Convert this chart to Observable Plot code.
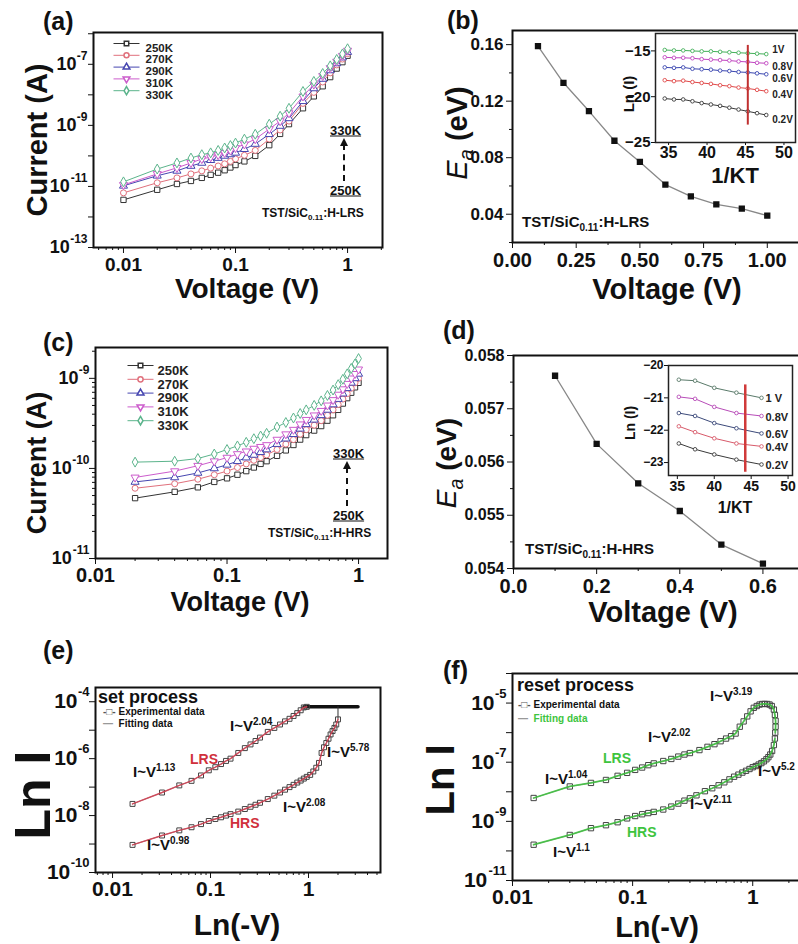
<!DOCTYPE html>
<html><head><meta charset="utf-8">
<script src="https://cdn.jsdelivr.net/npm/d3@7"></script>
<script src="https://cdn.jsdelivr.net/npm/@observablehq/plot@0.6"></script>
<style>
html,body{margin:0;padding:0;background:#fff;}
#fig{position:relative;width:798px;height:944px;overflow:hidden;background:#fff;}
sup,sub{line-height:0;}
</style></head><body><div id="fig"></div>
<script>
// ---------------- DATA ----------------
const temps = ["250K","270K","290K","310K","330K"];
const tempColors = ["#333333","#e0707c","#4646b0","#cc5ccc","#5cb48c"];
const tempSymbols = ["square","circle","triangle","triangle","diamond"];
const tempRotate = [0,0,0,180,0];

// (a) LRS, log10(I) vs V
const Va = [0.01,0.02,0.03,0.04,0.05,0.06,0.07,0.08,0.09,0.1,0.12,0.15,0.2,0.25,0.3,0.4,0.5,0.6,0.7,0.8,0.9,1.0];
const logIa_250K = [-11.44,-11.11,-10.92,-10.82,-10.72,-10.62,-10.55,-10.47,-10.38,-10.30,-10.18,-10.00,-9.65,-9.28,-8.96,-8.44,-8.05,-7.72,-7.42,-7.14,-6.93,-6.72];
const logIa_270K = [-11.21,-10.88,-10.72,-10.59,-10.49,-10.40,-10.33,-10.26,-10.18,-10.10,-9.98,-9.82,-9.45,-9.15,-8.86,-8.28,-7.92,-7.58,-7.28,-7.02,-6.83,-6.65];
const logIa_290K = [-10.98,-10.65,-10.49,-10.33,-10.23,-10.14,-10.07,-10.00,-9.95,-9.90,-9.78,-9.61,-9.29,-9.02,-8.77,-8.21,-7.79,-7.48,-7.20,-6.97,-6.78,-6.60];
const logIa_310K = [-10.95,-10.59,-10.39,-10.23,-10.10,-10.04,-9.97,-9.90,-9.82,-9.74,-9.62,-9.45,-9.12,-8.86,-8.60,-8.05,-7.66,-7.38,-7.12,-6.91,-6.72,-6.55];
const logIa_330K = [-10.85,-10.43,-10.23,-10.07,-9.96,-9.90,-9.82,-9.74,-9.66,-9.58,-9.45,-9.29,-8.96,-8.70,-8.44,-7.89,-7.56,-7.30,-7.05,-6.84,-6.66,-6.49];

// (b) activation energy LRS
const Vb = [0.1,0.2,0.3,0.4,0.5,0.6,0.7,0.8,0.9,1.0];
const Ea_b = [0.159,0.133,0.113,0.092,0.077,0.061,0.0526,0.047,0.044,0.039];
// (b) inset: Ln(I) vs 1/kT
const insetB_invKT = [34.5,35.7,36.9,38.1,39.3,40.5,41.7,42.9,44.1,45.3,46.5,47.7];
const insetB_1V  = [-14.9,-14.95,-14.95,-15.0,-15.05,-15.05,-15.1,-15.15,-15.2,-15.25,-15.3,-15.35];
const insetB_08V = [-15.7,-15.75,-15.75,-15.8,-15.9,-15.95,-16.0,-16.05,-16.15,-16.2,-16.3,-16.35];
const insetB_06V = [-16.8,-16.85,-16.8,-16.95,-17.0,-17.05,-17.15,-17.2,-17.3,-17.35,-17.45,-17.55];
const insetB_04V = [-18.2,-18.3,-18.25,-18.4,-18.5,-18.6,-18.75,-18.85,-19.0,-19.1,-19.25,-19.4];
const insetB_02V = [-20.2,-20.3,-20.3,-20.5,-20.7,-20.85,-21.0,-21.2,-21.4,-21.6,-21.8,-22.0];
const insetB_labels = ["1V","0.8V","0.6V","0.4V","0.2V"];
const insetB_colors = ["#44b05a","#c044c0","#3a46b0","#e04848","#3a3a3a"];
const insetB_cursor = {x: 45.3, y1: -23.1, y2: -14.4};

// (c) HRS, log10(I) vs V
const Vc = [0.02,0.04,0.06,0.08,0.1,0.12,0.14,0.16,0.18,0.2,0.24,0.28,0.32,0.36,0.4,0.46,0.52,0.58,0.64,0.7,0.76,0.82,0.88,0.94,1.0];
const logIc_250K = [-10.33,-10.26,-10.21,-10.15,-10.11,-10.07,-10.03,-9.99,-9.95,-9.92,-9.86,-9.80,-9.74,-9.68,-9.63,-9.58,-9.53,-9.47,-9.41,-9.35,-9.28,-9.22,-9.16,-9.10,-9.05];
const logIc_270K = [-10.22,-10.17,-10.12,-10.07,-10.03,-9.99,-9.95,-9.91,-9.88,-9.85,-9.79,-9.73,-9.68,-9.62,-9.57,-9.52,-9.47,-9.41,-9.35,-9.29,-9.23,-9.17,-9.11,-9.05,-9.00];
const logIc_290K = [-10.15,-10.10,-10.05,-10.00,-9.96,-9.92,-9.88,-9.85,-9.82,-9.79,-9.73,-9.67,-9.62,-9.56,-9.51,-9.46,-9.41,-9.35,-9.29,-9.23,-9.17,-9.11,-9.05,-9.00,-8.95];
const logIc_310K = [-10.10,-10.03,-9.97,-9.92,-9.88,-9.84,-9.81,-9.78,-9.76,-9.74,-9.68,-9.62,-9.57,-9.51,-9.46,-9.41,-9.36,-9.30,-9.24,-9.18,-9.12,-9.06,-9.00,-8.95,-8.90];
const logIc_330K = [-9.93,-9.92,-9.89,-9.84,-9.79,-9.75,-9.71,-9.67,-9.64,-9.61,-9.54,-9.49,-9.44,-9.39,-9.35,-9.30,-9.25,-9.19,-9.13,-9.07,-9.01,-8.95,-8.89,-8.84,-8.78];

// (d) activation energy HRS
const Vd = [0.1,0.2,0.3,0.4,0.5,0.6];
const Ea_d = [0.05762,0.05634,0.05560,0.05508,0.05445,0.05409];
const insetD_invKT = [35.2,37.4,40.0,43.0,46.4];
const insetD_1V  = [-20.44,-20.47,-20.69,-20.84,-21.0];
const insetD_08V = [-20.97,-21.03,-21.28,-21.47,-21.56];
const insetD_06V = [-21.47,-21.56,-21.78,-21.94,-22.1];
const insetD_04V = [-21.88,-22.06,-22.25,-22.41,-22.5];
const insetD_02V = [-22.41,-22.59,-22.75,-22.91,-23.06];
const insetD_labels = ["1 V","0.8V","0.6V","0.4V","0.2V"];
const insetD_colors = ["#5a7a6a","#b84cb8","#3c4a7a","#d85a6a","#3a3a3a"];
const insetD_cursor = {x: 44.2, y1: -23.3, y2: -20.6};

// (e) set process
const Ve_LRS = [0.016,0.032,0.048,0.064,0.08,0.096,0.112,0.128,0.144,0.16,0.192,0.224,0.256,0.288,0.32,0.384,0.448,0.512,0.576,0.64,0.704,0.768,0.832,0.896,0.96];
const logIe_LRS = [-7.59,-7.19,-6.94,-6.78,-6.59,-6.41,-6.30,-6.19,-6.08,-6.00,-5.80,-5.63,-5.50,-5.38,-5.26,-5.06,-4.92,-4.80,-4.69,-4.60,-4.50,-4.40,-4.30,-4.20,-4.18];
const Ve_HRS = [0.016,0.032,0.048,0.064,0.08,0.096,0.112,0.128,0.144,0.16,0.192,0.224,0.256,0.288,0.32,0.384,0.448,0.512,0.576,0.64,0.704,0.768,0.832,0.896,0.96,1.04,1.12,1.2,1.28,1.36,1.44,1.52,1.6,1.68,1.76,1.84,1.92,2.0];
const logIe_HRS = [-9.03,-8.70,-8.52,-8.41,-8.30,-8.19,-8.12,-8.06,-8.00,-7.95,-7.86,-7.77,-7.69,-7.62,-7.55,-7.42,-7.30,-7.19,-7.09,-7.00,-6.92,-6.84,-6.77,-6.70,-6.64,-6.57,-6.45,-6.32,-6.15,-5.80,-5.60,-5.45,-5.30,-5.15,-5.03,-4.92,-4.80,-4.62];
const Ve_compliance = [0.9, 3.2];
const logIe_compliance = -4.18;

// (f) reset process
const Vf_LRS = [0.015,0.03,0.045,0.06,0.075,0.09,0.105,0.12,0.135,0.15,0.18,0.21,0.24,0.27,0.3,0.36,0.42,0.48,0.54,0.6,0.66,0.72,0.78,0.84,0.9,0.96,1.02,1.08,1.14,1.2,1.26,1.32,1.38,1.44,1.5,1.53,1.55,1.55,1.54];
const logIf_LRS = [-8.21,-7.82,-7.70,-7.60,-7.46,-7.36,-7.26,-7.18,-7.10,-7.04,-6.96,-6.89,-6.81,-6.74,-6.69,-6.59,-6.48,-6.39,-6.29,-6.20,-6.12,-6.03,-5.80,-5.62,-5.45,-5.28,-5.16,-5.10,-5.05,-5.03,-5.03,-5.03,-5.05,-5.10,-5.22,-5.40,-5.60,-5.80,-6.00];
const Vf_HRS = [1.53,1.5,1.45,1.4,1.35,1.3,1.24,1.18,1.12,1.06,1.0,0.94,0.88,0.82,0.76,0.7,0.64,0.58,0.52,0.46,0.4,0.34,0.3,0.27,0.24,0.21,0.18,0.15,0.135,0.12,0.105,0.09,0.075,0.06,0.045,0.03,0.015];
const logIf_HRS = [-6.2,-6.42,-6.62,-6.74,-6.83,-6.9,-6.97,-7.03,-7.08,-7.13,-7.17,-7.23,-7.29,-7.35,-7.42,-7.49,-7.58,-7.68,-7.78,-7.88,-7.98,-8.12,-8.22,-8.30,-8.40,-8.50,-8.60,-8.68,-8.72,-8.76,-8.82,-8.90,-9.03,-9.13,-9.23,-9.46,-9.79];

// tick values
const ticksA_x = [0.01,0.1,1];
const ticksA_yLabel = [1e-13,1e-11,1e-9,1e-7];
const ticksC_yLabel = [1e-11,1e-10,1e-9];
const ticksE_yLabel = [1e-10,1e-8,1e-6,1e-4];
const ticksF_yLabel = [1e-11,1e-9,1e-7,1e-5];
const ticksB_x = [0,0.25,0.5,0.75,1.0];
const ticksB_y = [0.04,0.08,0.12,0.16];
const ticksD_x = [0,0.2,0.4,0.6];
const ticksD_y = [0.054,0.055,0.056,0.057,0.058];

// ---------------- HELPERS ----------------
const FONT = '"Liberation Sans", Arial, Helvetica, sans-serif';
const fig = document.getElementById("fig");
function mount(svg, left, top){ svg.style.position="absolute"; svg.style.left=left+"px"; svg.style.top=top+"px"; fig.appendChild(svg); }
function panel({box:[x0,y0,x1,y1], m:[mt,mr,mb,ml], x, y, marks, fs}){
  const svg = Plot.plot({
    width: x1-x0+ml+mr, height: y1-y0+mt+mb,
    marginTop: mt, marginRight: mr, marginBottom: mb, marginLeft: ml,
    x, y, marks,
    style: {background:"transparent", overflow:"visible", fontFamily: FONT, fontWeight:"bold", fontSize: fs+"px", maxWidth:"none", color:"#111"}
  });
  mount(svg, x0-ml, y0-mt);
}
function label(html, x, y, css="", anchor="start", rotate=false){
  const d = document.createElement("div");
  d.innerHTML = html;
  const tx = anchor==="middle" ? "-50%" : anchor==="end" ? "-100%" : "0";
  d.style.cssText = `position:absolute;left:${x}px;top:${y}px;white-space:nowrap;line-height:1;font-family:${FONT};font-weight:bold;color:#111;transform:translate(${tx},-50%)${rotate?" rotate(-90deg)":""};transform-origin:center;${css}`;
  fig.appendChild(d);
}
function arrowUp(x, yTop, yBot){
  const d = document.createElement("div");
  d.style.cssText = `position:absolute;left:${x-1}px;top:${yTop+6}px;height:${yBot-yTop-6}px;border-left:2px dashed #111;`;
  fig.appendChild(d);
  const h = document.createElement("div");
  h.style.cssText = `position:absolute;left:${x-4}px;top:${yTop}px;width:0;height:0;border-left:4px solid transparent;border-right:4px solid transparent;border-bottom:8px solid #111;`;
  fig.appendChild(h);
}
function logMinor(lo, hi){ const out=[]; for(let k=Math.floor(Math.log10(lo)); k<=Math.ceil(Math.log10(hi)); k++) for(let m=2;m<=9;m++){const v=m*10**k; if(v>=lo&&v<=hi) out.push(v);} return out; }
function logMajor(lo, hi){ const out=[]; for(let k=Math.ceil(Math.log10(lo)-1e-9); 10**k<=hi*1.0001; k++) out.push(10**k); return out; }
function logYLabels(ticks, fs, es){
  const marks=[];
  for(const t of ticks){
    const e = String(Math.round(Math.log10(t)));
    const ew = (e.length-1)*es*0.56 + es*0.36;
    marks.push(Plot.text([t], {y: d=>d, frameAnchor:"left", text: ()=>e, textAnchor:"end", dx:-6, dy:-fs*0.45, fontSize: es}));
    marks.push(Plot.text([t], {y: d=>d, frameAnchor:"left", text: ()=>"10", textAnchor:"end", dx:-6-ew, fontSize: fs}));
  }
  return marks;
}
const segSymbol = {draw(ctx){ ctx.moveTo(-13,0); ctx.lineTo(13,0); }};
const rowsOf = (xs, ys, f=(v)=>10**v) => xs.map((v,i)=>({x:v, y:f(ys[i])}));

// ---------------- PANEL (a) ----------------
{
  const series = [logIa_250K, logIa_270K, logIa_290K, logIa_310K, logIa_330K];
  const xd = [0.0054, 2.05], yd = [1e-13, 1.1e-6];
  const marks = [];
  series.forEach((s,i)=>{
    const rows = rowsOf(Va, s);
    marks.push(Plot.line(rows, {x:"x", y:"y", stroke: tempColors[i], strokeWidth: 1}));
    marks.push(Plot.dot(rows, {x:"x", y:"y", symbol: tempSymbols[i], rotate: tempRotate[i], r: 3, stroke: tempColors[i], fill:"white", strokeWidth: 1}));
  });
  temps.forEach((t,i)=>{
    const dy = 11 + i*11.8;
    marks.push(Plot.dot([t], {frameAnchor:"top-left", dx:33, dy, symbol: segSymbol, stroke: tempColors[i], strokeWidth:1}));
    marks.push(Plot.dot([t], {frameAnchor:"top-left", dx:33, dy, symbol: tempSymbols[i], rotate: tempRotate[i], r:2.5, stroke: tempColors[i], fill:"white"}));
    marks.push(Plot.text([t], {frameAnchor:"top-left", dx:52, dy, text: d=>d, textAnchor:"start", fontSize:11.5, fill:"#222"}));
  });
  marks.push(Plot.axisX(ticksA_x, {tickSize:6, tickPadding:4, tickFormat: d=>String(d), fontSize:19, label:null}));
  marks.push(Plot.axisX(logMinor(...xd), {tickSize:3, tickFormat: ()=>"", label:null}));
  marks.push(Plot.axisY(logMajor(...yd), {tickSize:5, tickFormat: ()=>"", label:null}));
  marks.push(...logYLabels(ticksA_yLabel, 18, 12));
  marks.push(Plot.frame({stroke:"#111", strokeWidth:2}));
  panel({box:[93,32,382,247], m:[10,10,40,80], x:{type:"log", domain:xd}, y:{type:"log", domain:yd}, marks, fs:18});
}
label("(a)", 43, 21, "font-size:25px;");
label("Current (A)", 37, 140, "font-size:29px;", "middle", true);
label("Voltage (V)", 247, 289, "font-size:28px;", "middle");
label("<u>330K</u>", 330, 130, "font-size:13px;");
arrowUp(344, 138, 181);
label("<u>250K</u>", 330, 190, "font-size:13px;");
label("TST/SiC<sub style='font-size:8px'>0.11</sub>:H-LRS", 262, 213, "font-size:12px;");

// ---------------- PANEL (b) ----------------
{
  const rows = rowsOf(Vb, Ea_b, v=>v);
  const marks = [
    Plot.line(rows, {x:"x", y:"y", stroke:"#888", strokeWidth:1.3}),
    Plot.dot(rows, {x:"x", y:"y", symbol:"square", r:2.7, fill:"#111", stroke:"#111"}),
    Plot.axisX(ticksB_x, {tickSize:6, tickPadding:4, tickFormat: d=>d.toFixed(2), fontSize:20, label:null}),
    Plot.axisX([0.125,0.375,0.625,0.875,1.125], {tickSize:3, tickFormat: ()=>"", label:null}),
    Plot.axisY(ticksB_y, {tickSize:6, tickPadding:3, tickFormat: d=>d.toFixed(2), fontSize:17, label:null}),
    Plot.axisY([0.02,0.06,0.10,0.14], {tickSize:3, tickFormat: ()=>"", label:null}),
    Plot.frame({stroke:"#111", strokeWidth:2})
  ];
  panel({box:[512,30,805,242], m:[10,10,40,70], x:{domain:[0,1.15]}, y:{domain:[0.02,0.17]}, marks, fs:17});
}
{
  const series = [insetB_1V, insetB_08V, insetB_06V, insetB_04V, insetB_02V];
  const labelDy = [-4, 4, 5, 4, 5];
  const marks = [Plot.frame({fill:"white", stroke:null})];
  series.forEach((s,i)=>{
    const rows = rowsOf(insetB_invKT, s, v=>v);
    marks.push(Plot.line(rows, {x:"x", y:"y", stroke: insetB_colors[i], strokeWidth:1}));
    marks.push(Plot.dot(rows, {x:"x", y:"y", symbol:"circle", r:1.8, stroke: insetB_colors[i], fill:"white", strokeWidth:0.9}));
    marks.push(Plot.text([rows[rows.length-1]], {x:"x", y:"y", text: ()=>insetB_labels[i], dx:6, dy: labelDy[i], textAnchor:"start", fontSize:10, fill:"#222"}));
  });
  marks.push(Plot.ruleX([insetB_cursor], {x:"x", y1:"y1", y2:"y2", stroke:"#c03030", strokeWidth:2}));
  marks.push(Plot.axisX([35,40,45,50], {tickSize:3, tickPadding:1, fontSize:16, label:null}));
  marks.push(Plot.axisY([-25,-20,-15], {tickSize:4, tickPadding:1, fontSize:15, label:null}));
  marks.push(Plot.frame({stroke:"#222", strokeWidth:1.5}));
  panel({box:[655,33,795,142], m:[5,5,30,40], x:{domain:[33.3,51.5]}, y:{domain:[-25,-13.1]}, marks, fs:15});
}
label("(b)", 447, 20, "font-size:25px;");
label("<span style='font-weight:normal;font-style:italic'>E<sub style='font-size:0.7em'>a</sub></span> (eV)", 457, 133, "font-size:29px;", "middle", true);
label("Voltage (V)", 667, 289, "font-size:29px;", "middle");
label("Ln (I)", 628, 94, "font-size:15px;", "middle", true);
label("1/KT", 735, 176, "font-size:22px;", "middle");
label("TST/SiC<sub style='font-size:10px'>0.11</sub>:H-LRS", 522, 221, "font-size:15px;");

// ---------------- PANEL (c) ----------------
{
  const series = [logIc_250K, logIc_270K, logIc_290K, logIc_310K, logIc_330K];
  const xd = [0.01, 1.66], yd = [1e-11, 2.2e-9];
  const marks = [];
  series.forEach((s,i)=>{
    const rows = rowsOf(Vc, s);
    marks.push(Plot.line(rows, {x:"x", y:"y", stroke: tempColors[i], strokeWidth: 1}));
    marks.push(Plot.dot(rows, {x:"x", y:"y", symbol: tempSymbols[i], rotate: tempRotate[i], r: 3, stroke: tempColors[i], fill:"white", strokeWidth: 1}));
  });
  temps.forEach((t,i)=>{
    const dy = 18 + i*13.8;
    marks.push(Plot.dot([t], {frameAnchor:"top-left", dx:45, dy, symbol: segSymbol, stroke: tempColors[i], strokeWidth:1}));
    marks.push(Plot.dot([t], {frameAnchor:"top-left", dx:45, dy, symbol: tempSymbols[i], rotate: tempRotate[i], r:2.6, stroke: tempColors[i], fill:"white"}));
    marks.push(Plot.text([t], {frameAnchor:"top-left", dx:62, dy, text: d=>d, textAnchor:"start", fontSize:13, fill:"#222"}));
  });
  marks.push(Plot.axisX([0.01,0.1,1], {tickSize:6, tickPadding:3, tickFormat: d=>String(d), fontSize:20, label:null}));
  marks.push(Plot.axisX(logMinor(...xd), {tickSize:3, tickFormat: ()=>"", label:null}));
  marks.push(Plot.axisY(logMajor(...yd), {tickSize:6, tickFormat: ()=>"", label:null}));
  marks.push(Plot.axisY(logMinor(...yd), {tickSize:3, tickFormat: ()=>"", label:null}));
  marks.push(...logYLabels(ticksC_yLabel, 18, 12));
  marks.push(Plot.frame({stroke:"#111", strokeWidth:2}));
  panel({box:[95,347,387,558], m:[10,10,40,80], x:{type:"log", domain:xd}, y:{type:"log", domain:yd}, marks, fs:18});
}
label("(c)", 43, 342, "font-size:25px;");
label("Current (A)", 37, 463, "font-size:27px;", "middle", true);
label("Voltage (V)", 240, 602, "font-size:27px;", "middle");
label("<u>330K</u>", 333, 453, "font-size:13px;");
arrowUp(347, 461, 506);
label("<u>250K</u>", 333, 515, "font-size:13px;");
label("TST/SiC<sub style='font-size:8px'>0.11</sub>:H-HRS", 268, 533, "font-size:12px;");

// ---------------- PANEL (d) ----------------
{
  const rows = rowsOf(Vd, Ea_d, v=>v);
  const marks = [
    Plot.line(rows, {x:"x", y:"y", stroke:"#888", strokeWidth:1.3}),
    Plot.dot(rows, {x:"x", y:"y", symbol:"square", r:2.7, fill:"#111", stroke:"#111"}),
    Plot.axisX(ticksD_x, {tickSize:6, tickPadding:4, tickFormat: d=>d.toFixed(1), fontSize:20, label:null}),
    Plot.axisX([0.1,0.3,0.5,0.7], {tickSize:3, tickFormat: ()=>"", label:null}),
    Plot.axisY(ticksD_y, {tickSize:6, tickPadding:3, tickFormat: d=>d.toFixed(3), fontSize:16, label:null}),
    Plot.axisY([0.0545,0.0555,0.0565,0.0575], {tickSize:3, tickFormat: ()=>"", label:null}),
    Plot.frame({stroke:"#111", strokeWidth:2})
  ];
  panel({box:[513,355,804,568], m:[10,10,40,70], x:{domain:[0,0.7]}, y:{domain:[0.054,0.058]}, marks, fs:16});
}
{
  const series = [insetD_1V, insetD_08V, insetD_06V, insetD_04V, insetD_02V];
  const marks = [Plot.frame({fill:"white", stroke:null})];
  series.forEach((s,i)=>{
    const rows = rowsOf(insetD_invKT, s, v=>v);
    marks.push(Plot.line(rows, {x:"x", y:"y", stroke: insetD_colors[i], strokeWidth:1}));
    marks.push(Plot.dot(rows, {x:"x", y:"y", symbol:"circle", r:1.8, stroke: insetD_colors[i], fill:"white", strokeWidth:0.9}));
    marks.push(Plot.text([rows[rows.length-1]], {x:"x", y:"y", text: ()=>insetD_labels[i], dx:4, dy:1, textAnchor:"start", fontSize:11, fill:"#222"}));
  });
  marks.push(Plot.ruleX([insetD_cursor], {x:"x", y1:"y1", y2:"y2", stroke:"#d03a3a", strokeWidth:2.5}));
  marks.push(Plot.axisX([35,40,45,50], {tickSize:4, tickPadding:2, fontSize:14, label:null}));
  marks.push(Plot.axisY([-23,-22,-21,-20], {tickSize:4, tickPadding:1, fontSize:12, label:null}));
  marks.push(Plot.frame({stroke:"#222", strokeWidth:1.5}));
  panel({box:[668,365,792,475], m:[5,5,30,40], x:{domain:[33.8,50.6]}, y:{domain:[-23.4,-20]}, marks, fs:13});
}
label("(d)", 443, 330, "font-size:25px;");
label("<span style='font-weight:normal;font-style:italic'>E<sub style='font-size:0.7em'>a</sub></span> (eV)", 447, 463, "font-size:28px;", "middle", true);
label("Voltage (V)", 663, 612, "font-size:29px;", "middle");
label("Ln (I)", 630, 423, "font-size:14px;", "middle", true);
label("1/KT", 735, 508, "font-size:16px;", "middle");
label("TST/SiC<sub style='font-size:10px'>0.11</sub>:H-HRS", 525, 548, "font-size:15px;");

// ---------------- PANEL (e) ----------------
{
  const xd = [0.0067, 5.43], yd = [1e-10, 10**-3.5];
  const lrs = rowsOf(Ve_LRS, logIe_LRS);
  const hrs = rowsOf(Ve_HRS, logIe_HRS);
  const comp = Ve_compliance.map(v=>({x:v, y:10**logIe_compliance}));
  const hrsEnd = hrs[hrs.length-1];
  const marks = [
    Plot.line(comp, {x:"x", y:"y", stroke:"#111", strokeWidth:3.5}),
    Plot.ruleX([hrsEnd], {x:"x", y1:"y", y2: ()=>10**logIe_compliance, stroke:"#333", strokeWidth:1}),
    Plot.line(lrs, {x:"x", y:"y", stroke:"#555", strokeWidth:0.8}),
    Plot.line(hrs, {x:"x", y:"y", stroke:"#555", strokeWidth:0.8}),
    Plot.dot(lrs, {x:"x", y:"y", symbol:"square", r:2.8, stroke:"#444", fill:"none", strokeWidth:1}),
    Plot.dot(hrs, {x:"x", y:"y", symbol:"square", r:2.8, stroke:"#444", fill:"none", strokeWidth:1}),
    Plot.line(lrs, {x:"x", y:"y", stroke:"#d84052", strokeWidth:1.5, strokeOpacity:0.85}),
    Plot.line(hrs, {x:"x", y:"y", stroke:"#d84052", strokeWidth:1.5, strokeOpacity:0.85}),
    Plot.axisX([0.01,0.1,1], {tickSize:6, tickPadding:3, tickFormat: d=>String(d), fontSize:21, label:null}),
    Plot.axisX(logMinor(...xd), {tickSize:3, tickFormat: ()=>"", label:null}),
    Plot.axisY(logMajor(...yd), {tickSize:6, tickFormat: ()=>"", label:null}),
    ...logYLabels(ticksE_yLabel, 21, 13),
    Plot.frame({stroke:"#111", strokeWidth:2})
  ];
  panel({box:[95,687,380,872], m:[10,10,40,80], x:{type:"log", domain:xd}, y:{type:"log", domain:yd}, marks, fs:21});
}
label("(e)", 43, 650, "font-size:25px;");
label("Ln I", 33, 795, "font-size:50px;", "middle", true);
label("Ln(-V)", 237, 925, "font-size:30px;", "middle");
label("set process", 98, 697, "font-size:18px;");
label("<span style='color:#555'>-□-</span> Experimental data", 103, 712, "font-size:10px;");
label("<span style='color:#999'>—</span>&nbsp; Fitting data", 103, 724, "font-size:10px;");
const supS = "font-size:10px;vertical-align:super;";
label(`I~V<span style='${supS}'>1.13</span>`, 133, 771, "font-size:15px;");
label("LRS", 190, 759, "font-size:14px;color:#d0303c;");
label(`I~V<span style='${supS}'>2.04</span>`, 230, 725, "font-size:15px;");
label(`I~V<span style='${supS}'>5.78</span>`, 327, 751, "font-size:15px;");
label(`I~V<span style='${supS}'>2.08</span>`, 283, 806, "font-size:15px;");
label("HRS", 230, 823, "font-size:14px;color:#d0303c;");
label(`I~V<span style='${supS}'>0.98</span>`, 147, 844, "font-size:15px;");

// ---------------- PANEL (f) ----------------
{
  const xd = [0.01, 2.75], yd = [1e-11, 1e-4];
  const lrs = rowsOf(Vf_LRS, logIf_LRS);
  const hrs = rowsOf(Vf_HRS, logIf_HRS);
  const marks = [
    Plot.line(lrs.concat(hrs), {x:"x", y:"y", stroke:"#555", strokeWidth:0.8}),
    Plot.dot(lrs, {x:"x", y:"y", symbol:"square", r:3, stroke:"#444", fill:"none", strokeWidth:1}),
    Plot.dot(hrs, {x:"x", y:"y", symbol:"square", r:3, stroke:"#444", fill:"none", strokeWidth:1}),
    Plot.line(lrs, {x:"x", y:"y", stroke:"#3ec43e", strokeWidth:1.8, strokeOpacity:0.85}),
    Plot.line(hrs, {x:"x", y:"y", stroke:"#3ec43e", strokeWidth:1.8, strokeOpacity:0.85}),
    Plot.axisX([0.01,0.1,1], {tickSize:6, tickPadding:3, tickFormat: d=>String(d), fontSize:21, label:null}),
    Plot.axisX(logMinor(...xd), {tickSize:3, tickFormat: ()=>"", label:null}),
    Plot.axisY(logMajor(...yd), {tickSize:6, tickFormat: ()=>"", label:null}),
    ...logYLabels(ticksF_yLabel, 21, 13),
    Plot.frame({stroke:"#111", strokeWidth:2})
  ];
  panel({box:[512,673,805,880], m:[10,10,40,80], x:{type:"log", domain:xd}, y:{type:"log", domain:yd}, marks, fs:21});
}
label("(f)", 443, 670, "font-size:25px;");
label("Ln I", 440, 780, "font-size:40px;", "middle", true);
label("Ln(-V)", 657, 927, "font-size:29px;", "middle");
label("reset process", 517, 685, "font-size:18px;");
label("<span style='color:#555'>-□-</span> Experimental data", 518, 705, "font-size:10px;");
label("<span style='color:#999'>—</span>&nbsp; <span style='color:#3ec43e'>Fitting data</span>", 518, 719, "font-size:10px;");
label(`I~V<span style='${supS}'>3.19</span>`, 710, 695, "font-size:15px;");
label(`I~V<span style='${supS}'>2.02</span>`, 648, 736, "font-size:15px;");
label("LRS", 603, 758, "font-size:14px;color:#3ec43e;");
label(`I~V<span style='${supS}'>1.04</span>`, 545, 778, "font-size:15px;");
label(`I~V<span style='${supS}'>5.2</span>`, 758, 770, "font-size:15px;");
label(`I~V<span style='${supS}'>2.11</span>`, 690, 803, "font-size:15px;");
label("HRS", 627, 832, "font-size:14px;color:#3ec43e;");
label(`I~V<span style='${supS}'>1.1</span>`, 553, 851, "font-size:15px;");
</script></body></html>
